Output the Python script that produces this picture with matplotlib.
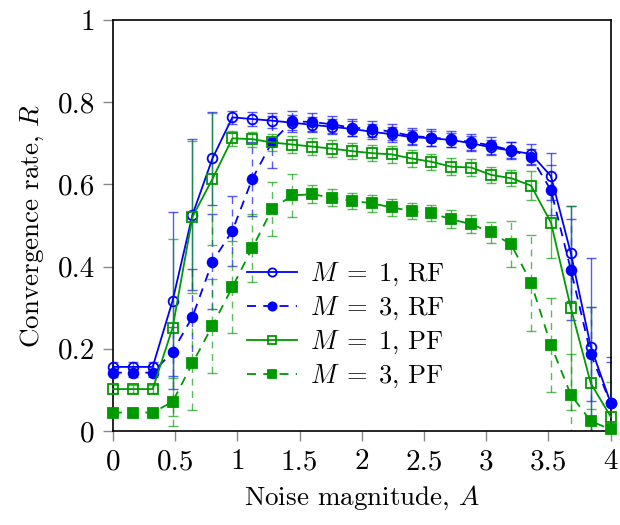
import matplotlib.pyplot as plt
import numpy as np

plt.rcParams['font.family'] = 'cmr10'
plt.rcParams['mathtext.fontset'] = 'cm'
plt.rcParams['axes.formatter.use_mathtext'] = True

# noise magnitude A
A = [0.00, 0.16, 0.32, 0.48, 0.64, 0.80, 0.96, 1.12, 1.28, 1.44, 1.60, 1.76, 1.92,
     2.08, 2.24, 2.40, 2.56, 2.72, 2.88, 3.04, 3.20, 3.36, 3.52, 3.68, 3.84, 4.00]

# M = 1, RF
r_m1_rf = [0.156, 0.156, 0.156, 0.317, 0.526, 0.663, 0.763, 0.759, 0.755, 0.750,
           0.745, 0.740, 0.735, 0.728, 0.722, 0.715, 0.712, 0.708, 0.700, 0.690,
           0.682, 0.674, 0.620, 0.432, 0.205, 0.068]
e_m1_rf = [0.012, 0.012, 0.012, 0.215, 0.184, 0.114, 0.016, 0.017, 0.018, 0.018,
           0.018, 0.018, 0.018, 0.018, 0.018, 0.018, 0.018, 0.018, 0.018, 0.018,
           0.020, 0.025, 0.057, 0.115, 0.217, 0.113]

# M = 3, RF
r_m3_rf = [0.142, 0.142, 0.142, 0.193, 0.278, 0.412, 0.487, 0.613, 0.704, 0.753,
           0.752, 0.746, 0.738, 0.735, 0.728, 0.718, 0.714, 0.710, 0.703, 0.695,
           0.683, 0.667, 0.586, 0.392, 0.187, 0.067]
e_m3_rf = [0.010, 0.010, 0.010, 0.060, 0.115, 0.115, 0.085, 0.090, 0.063, 0.025,
           0.022, 0.020, 0.020, 0.020, 0.020, 0.020, 0.020, 0.020, 0.020, 0.020,
           0.020, 0.020, 0.060, 0.123, 0.115, 0.100]

# M = 1, PF
r_m1_pf = [0.102, 0.102, 0.102, 0.251, 0.521, 0.613, 0.712, 0.710, 0.702, 0.697,
           0.692, 0.687, 0.681, 0.676, 0.673, 0.663, 0.655, 0.643, 0.641, 0.623,
           0.615, 0.597, 0.507, 0.299, 0.116, 0.035]
e_m1_pf = [0.010, 0.010, 0.010, 0.215, 0.185, 0.160, 0.018, 0.018, 0.020, 0.020,
           0.020, 0.020, 0.020, 0.020, 0.020, 0.020, 0.020, 0.020, 0.020, 0.020,
           0.020, 0.035, 0.085, 0.248, 0.186, 0.085]

# M = 3, PF
r_m3_pf = [0.045, 0.045, 0.045, 0.071, 0.165, 0.256, 0.350, 0.445, 0.540, 0.573,
           0.576, 0.568, 0.560, 0.554, 0.544, 0.535, 0.530, 0.515, 0.503, 0.483,
           0.454, 0.361, 0.209, 0.088, 0.024, 0.004]
e_m3_pf = [0.004, 0.004, 0.004, 0.058, 0.115, 0.115, 0.112, 0.082, 0.065, 0.053,
           0.022, 0.020, 0.020, 0.020, 0.020, 0.020, 0.020, 0.022, 0.022, 0.025,
           0.056, 0.117, 0.115, 0.100, 0.030, 0.010]

blue = '#0000ff'
green = '#009900'

fig = plt.figure(figsize=(6.2, 5.25), dpi=100)
ax = fig.add_axes([0.182, 0.179, 0.803, 0.783])

series = [
    (r_m1_rf, e_m1_rf, blue, 'o', 'none', '-', r'$M\;=\;1$, RF'),
    (r_m3_rf, e_m3_rf, blue, 'o', blue, '--', r'$M\;=\;3$, RF'),
    (r_m1_pf, e_m1_pf, green, 's', 'none', '-', r'$M\;=\;1$, PF'),
    (r_m3_pf, e_m3_pf, green, 's', green, '--', r'$M\;=\;3$, PF'),
]

for r, e, c, m, fc, ls, lab in series:
    # error bars drawn separately, a bit lighter
    eb = ax.errorbar(A, r, yerr=e, fmt='none', ecolor=c, elinewidth=1.0,
                     capsize=3.5, capthick=1.0, alpha=0.65, zorder=2)
    if ls == '--':
        eb[2][0].set_linestyle((0, (5, 4)))
    line, = ax.plot(A, r, color=c, linestyle=ls, linewidth=1.3, marker=m,
                    markersize=7 if m == 'o' else 6.5, markerfacecolor=fc,
                    markeredgecolor=c, markeredgewidth=1.3, label=lab,
                    zorder=3, clip_on=False)
    if ls == '--':
        line.set_dashes((5, 4))

ax.set_xlim(0, 4.0)
ax.set_ylim(0, 1)
ax.set_xticks([0, 0.5, 1, 1.5, 2, 2.5, 3, 3.5, 4])
ax.set_xticklabels(['0', '0.5', '1', '1.5', '2', '2.5', '3', '3.5', '4'])
ax.set_yticks([0, 0.2, 0.4, 0.6, 0.8, 1])
ax.set_yticklabels(['0', '0.2', '0.4', '0.6', '0.8', '1'])
ax.tick_params(direction='out', length=7, width=1, color='#888888',
               labelsize=21, pad=6)
for s in ax.spines.values():
    s.set_linewidth(1.2)

ax.set_xlabel(r'Noise magnitude, $A$', fontsize=19.5, labelpad=6)
ax.set_ylabel(r'Convergence rate, $R$', fontsize=19.5, labelpad=8)

ax.legend(loc='center', bbox_to_anchor=(0.468, 0.257), frameon=False,
          fontsize=19, handlelength=1.9, handletextpad=0.5, labelspacing=0.25,
          markerscale=0.85)

fig.savefig('out.png', dpi=100)
